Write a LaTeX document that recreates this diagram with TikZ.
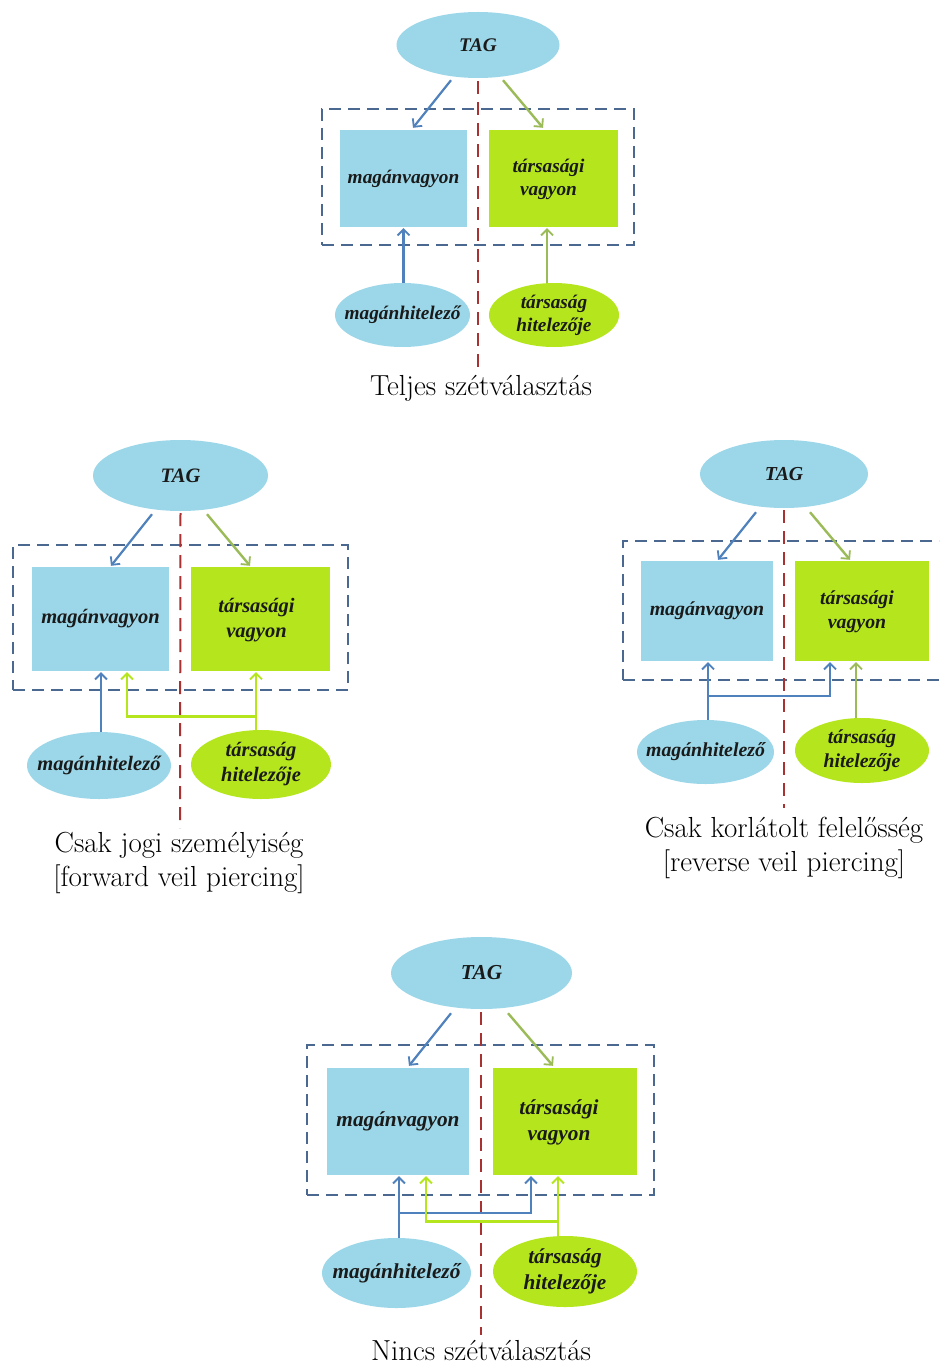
\documentclass[tikz,border=0pt]{standalone}
\usepackage{fontspec}
\newfontfamily\libf{Liberation Serif}
\usetikzlibrary{shapes.geometric,arrows.meta,calc}
\definecolor{lblue}{HTML}{9BD7E8}
\definecolor{lgreen}{HTML}{B5E61D}
\definecolor{ablue}{HTML}{4F81BD}
\definecolor{agreen}{HTML}{9BBB59}
\definecolor{boxline}{HTML}{4A6890}
\definecolor{sepred}{HTML}{A83232}
\definecolor{txt}{HTML}{1A1A1A}
\tikzset{
  ell/.style={ellipse,inner sep=0pt},
  bell/.style={ell,fill=lblue},
  gell/.style={ell,fill=lgreen},
  elltext/.style={inner sep=0pt,align=center,text=txt},
  bbox/.style={rectangle,fill=lblue,inner sep=0pt,align=center,text=txt},
  gbox/.style={rectangle,fill=lgreen,inner sep=0pt,align=center,text=txt},
  outerbox/.style={rectangle,draw=boxline,line width=1.8pt,dash pattern=on 12pt off 7pt,inner sep=0pt},
  sepline/.style={draw=sepred,line width=2pt,dash pattern=on 13pt off 8pt},
  arrtip/.style={-{Straight Barb[length=6pt,width=12pt,line width=1.8pt]}},
  barr/.style={arrtip,draw=ablue,line width=2.2pt},
  garr/.style={arrtip,draw=agreen,line width=2.4pt},
  larr/.style={arrtip,draw=lgreen,line width=2.8pt},
  captext/.style={anchor=base,inner sep=0pt,font=\fontsize{29}{34}\selectfont,text=black},
  fA/.style={font=\libf\bfseries\itshape\fontsize{19.3}{23}\selectfont},
  fB/.style={font=\libf\bfseries\itshape\fontsize{20.5}{25}\selectfont},
  fC/.style={font=\libf\bfseries\itshape\fontsize{19.8}{24}\selectfont},
  fD/.style={font=\libf\bfseries\itshape\fontsize{21.3}{26}\selectfont},
}
\begin{document}
\begin{tikzpicture}[x=1pt,y=-1pt]
\path[use as bounding box,clip] (0,0) rectangle (939,1367);
\fill[white] (0,0) rectangle (939,1367);

% ---------------- Diagram 1 ----------------
\begin{scope}[every node/.append style={fA}]
\node[outerbox,minimum width=312pt,minimum height=136pt] (ob1) at (478,177) {};
\node[bell,minimum width=163pt,minimum height=66pt] (tag1) at (478,45) {};
\node[elltext] (tag1t) at (tag1.center) {TAG};
\node[bbox,minimum width=127pt,minimum height=97pt] (mv1) at (403.5,178.5) {magánvagyon};
\node[gbox,minimum width=129pt,minimum height=97pt] (tv1) at (553.5,178.5) {};
\node[elltext] (tv1t) at ($(tv1.center)+(-5,1)$) {társasági\\vagyon};
\node[bell,minimum width=135pt,minimum height=64pt] (mh1) at (402.5,315) {};
\node[elltext] (mh1t) at (mh1.center) {magánhitelező};
\node[gell,minimum width=130pt,minimum height=64pt] (th1) at (554,315) {};
\node[elltext] (th1t) at (th1.center) {társaság\\hitelezője};
\end{scope}
\node[captext] (cap1) at (481,395) {Teljes szétválasztás};
\draw[sepline] ($(tag1.south)+(0,3)$) -- ($(tag1.south)+(0,294)$);
\draw[barr] ($(tag1.south)+(-27,2)$) -- ($(mv1.north)+(9.5,-2)$);
\draw[garr] ($(tag1.south)+(25,2)$) -- ($(tv1.north)+(-10.5,-2)$);
\draw[barr] ($(mh1.north)+(1,0)$) -- ($(mv1.south)+(0,1)$);
\draw[garr] ($(th1.north)+(-7,0)$) -- ($(tv1.south)+(-6.5,1)$);

% ---------------- Diagram 2 ----------------
\begin{scope}[every node/.append style={fB}]
\node[outerbox,minimum width=335pt,minimum height=145pt] (ob2) at (180.5,617.5) {};
\node[bell,minimum width=175pt,minimum height=71pt] (tag2) at (180.5,475.5) {};
\node[elltext] (tag2t) at (tag2.center) {TAG};
\node[bbox,minimum width=137pt,minimum height=104pt] (mv2) at (100.5,619) {magánvagyon};
\node[gbox,minimum width=139pt,minimum height=104pt] (tv2) at (260.5,619) {};
\node[elltext] (tv2t) at ($(tv2.center)+(-4,1)$) {társasági\\vagyon};
\node[bell,minimum width=144pt,minimum height=67pt] (mh2) at (99,765.5) {};
\node[elltext] (mh2t) at (mh2.center) {magánhitelező};
\node[gell,minimum width=140pt,minimum height=69pt] (th2) at (261,764.5) {};
\node[elltext] (th2t) at (th2.center) {társaság\\hitelezője};
\end{scope}
\node[captext] (cap2a) at (179,852) {Csak jogi személyiség};
\node[captext] (cap2b) at (179,886) {[forward veil piercing]};
\draw[sepline] ($(tag2.south)+(0,2)$) -- ($(tag2.south)+(-0.5,317)$);
\draw[barr] ($(tag2.south)+(-28.5,3)$) -- ($(mv2.north)+(10.5,-1)$);
\draw[garr] ($(tag2.south)+(26.5,3)$) -- ($(tv2.north)+(-10.5,-1)$);
\draw[barr] ($(mh2.north)+(2,0)$) -- ($(mv2.south)+(0.5,1)$);
\draw[larr] ($(th2.north)+(-5,0)$) -- ($(tv2.south)+(-4.5,1)$);
\draw[larr] ($(th2.north)+(-5,0)$) -- ++(0,-13) -| ($(mv2.south)+(26.5,1)$);

% ---------------- Diagram 3 ----------------
\begin{scope}[every node/.append style={fC}]
\node[outerbox,minimum width=332pt,minimum height=139pt] (ob3) at (789,610.5) {};
\node[bell,minimum width=168pt,minimum height=68pt] (tag3) at (784,474) {};
\node[elltext] (tag3t) at (tag3.center) {TAG};
\node[bbox,minimum width=132pt,minimum height=100pt] (mv3) at (707,611) {magánvagyon};
\node[gbox,minimum width=134pt,minimum height=100pt] (tv3) at (862,611) {};
\node[elltext] (tv3t) at ($(tv3.center)+(-5,1)$) {társasági\\vagyon};
\node[bell,minimum width=137pt,minimum height=64pt] (mh3) at (705.5,752) {};
\node[elltext] (mh3t) at (mh3.center) {magánhitelező};
\node[gell,minimum width=134pt,minimum height=65pt] (th3) at (862,750.5) {};
\node[elltext] (th3t) at (th3.center) {társaság\\hitelezője};
\end{scope}
\node[captext] (cap3a) at (784,837) {Csak korlátolt felelősség};
\node[captext] (cap3b) at (784,871) {[reverse veil piercing]};
\draw[sepline] ($(tag3.south)+(0,2)$) -- ($(tag3.south)+(0,300)$);
\draw[barr] ($(tag3.south)+(-28,4)$) -- ($(mv3.north)+(11,-1)$);
\draw[garr] ($(tag3.south)+(26,4)$) -- ($(tv3.north)+(-12,-1)$);
\draw[barr] ($(mh3.north)+(2.5,0)$) -- ($(mv3.south)+(1,1)$);
\draw[barr] ($(mh3.north)+(2.5,0)$) -- ++(0,-24) -| ($(tv3.south)+(-32,1)$);
\draw[garr] ($(th3.north)+(-6,0)$) -- ($(tv3.south)+(-6,1)$);

% ---------------- Diagram 4 ----------------
\begin{scope}[every node/.append style={fD}]
\node[outerbox,minimum width=347pt,minimum height=150pt] (ob4) at (480.5,1120) {};
\node[bell,minimum width=181pt,minimum height=72pt] (tag4) at (481.5,973) {};
\node[elltext] (tag4t) at (tag4.center) {TAG};
\node[bbox,minimum width=142pt,minimum height=107pt] (mv4) at (398,1121.5) {magánvagyon};
\node[gbox,minimum width=144pt,minimum height=107pt] (tv4) at (565,1121.5) {};
\node[elltext] (tv4t) at ($(tv4.center)+(-6,1)$) {társasági\\vagyon};
\node[bell,minimum width=149pt,minimum height=70pt] (mh4) at (396.5,1273) {};
\node[elltext] (mh4t) at (mh4.center) {magánhitelező};
\node[gell,minimum width=144pt,minimum height=71pt] (th4) at (565,1271.5) {};
\node[elltext] (th4t) at (th4.center) {társaság\\hitelezője};
\end{scope}
\node[captext] (cap4) at (481,1360) {Nincs szétválasztás};
\draw[sepline] ($(tag4.south)+(-0.5,3)$) -- ($(tag4.south)+(-0.5,326)$);
\draw[barr] ($(tag4.south)+(-30.5,4)$) -- ($(mv4.north)+(11,-2)$);
\draw[garr] ($(tag4.south)+(26.5,4)$) -- ($(tv4.north)+(-12,-2)$);
\draw[barr] ($(mh4.north)+(2.5,0)$) -- ($(mv4.south)+(1,1)$);
\draw[barr] ($(mh4.north)+(2.5,0)$) -- ++(0,-25) -| ($(tv4.south)+(-34,1)$);
\draw[larr] ($(th4.north)+(-7,0)$) -- ($(tv4.south)+(-7,1)$);
\draw[larr] ($(th4.north)+(-7,0)$) -- ++(0,-14) -| ($(mv4.south)+(28,1)$);
\end{tikzpicture}
\end{document}
